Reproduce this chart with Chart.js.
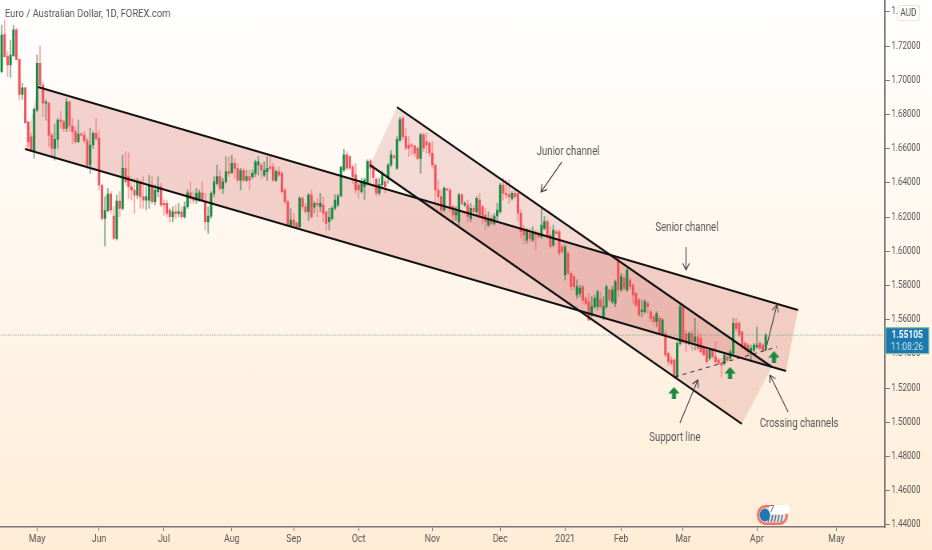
<!DOCTYPE html>
<html>
<head>
<meta charset="utf-8">
<title>EURAUD</title>
<script src="https://cdn.jsdelivr.net/npm/chart.js@4/dist/chart.umd.min.js"></script>
<style>
html, body { margin: 0; padding: 0; width: 932px; height: 550px; overflow: hidden; background: linear-gradient(to bottom, #ffffff 0%, #fff6ec 50%, #ffedd6 100%); }
/* the original picture is squeezed sideways, so the chart is drawn wider and narrowed here */
canvas { display: block; transform: scaleX(0.8); transform-origin: left top; }
</style>
</head>
<body>
<canvas id="chart" width="1165" height="550"></canvas>
<script>
const opens = [
1.7051,1.7269,1.7139,1.7090,1.7144,1.7295,1.7123,1.6918,1.6957,1.6758,
1.6670,1.6589,1.6827,1.7100,1.6973,1.6866,1.6866,1.6680,1.6602,1.6655,
1.6768,1.6758,1.6719,1.6875,1.6733,1.6700,1.6641,1.6686,1.6680,1.6647,
1.6505,1.6622,1.6690,1.6661,1.6388,1.6193,1.6238,1.6335,1.6206,1.6076,
1.6294,1.6251,1.6485,1.6437,1.6378,1.6359,1.6329,1.6407,1.6320,1.6300,
1.6300,1.6388,1.6290,1.6349,1.6378,1.6281,1.6281,1.6242,1.6203,1.6232,
1.6222,1.6232,1.6203,1.6261,1.6343,1.6310,1.6300,1.6310,1.6343,1.6290,
1.6173,1.6206,1.6339,1.6398,1.6437,1.6368,1.6407,1.6466,1.6460,1.6515,
1.6485,1.6417,1.6472,1.6417,1.6437,1.6437,1.6456,1.6505,1.6505,1.6446,
1.6466,1.6495,1.6495,1.6417,1.6466,1.6456,1.6359,1.6290,1.6154,1.6183,
1.6164,1.6144,1.6310,1.6261,1.6232,1.6330,1.6258,1.6281,1.6261,1.6271,
1.6232,1.6174,1.6193,1.6252,1.6271,1.6324,1.6476,1.6564,1.6554,1.6495,
1.6447,1.6388,1.6349,1.6379,1.6402,1.6529,1.6486,1.6421,1.6340,1.6388,
1.6408,1.6433,1.6505,1.6558,1.6486,1.6652,1.6778,1.6671,1.6622,1.6622,
1.6616,1.6603,1.6544,1.6681,1.6642,1.6632,1.6574,1.6505,1.6359,1.6320,
1.6242,1.6363,1.6359,1.6262,1.6213,1.6174,1.6330,1.6271,1.6271,1.6193,
1.6252,1.6232,1.6300,1.6262,1.6213,1.6154,1.6193,1.6164,1.6207,1.6232,
1.6388,1.6340,1.6330,1.6310,1.6340,1.6340,1.6223,1.6125,1.6066,1.6106,
1.6066,1.6106,1.6106,1.6086,1.6135,1.6174,1.6096,1.6037,1.6115,1.6115,
1.6027,1.5862,1.5989,1.5872,1.5852,1.5745,1.5755,1.5794,1.5725,1.5706,
1.5628,1.5677,1.5677,1.5716,1.5618,1.5677,1.5774,1.5706,1.5696,1.5950,
1.5774,1.5842,1.5774,1.5832,1.5803,1.5755,1.5716,1.5647,1.5647,1.5696,
1.5647,1.5618,1.5589,1.5608,1.5520,1.5520,1.5403,1.5364,1.5364,1.5267,
1.5462,1.5677,1.5520,1.5462,1.5520,1.5472,1.5501,1.5491,1.5433,1.5423,
1.5374,1.5423,1.5384,1.5364,1.5345,1.5345,1.5384,1.5374,1.5403,1.5579,
1.5579,1.5530,1.5462,1.5452,1.5403,1.5423,1.5442,1.5462,1.5452,1.5423
];
const highs = [
1.7324,1.7353,1.7168,1.7236,1.7324,1.7304,1.7123,1.6983,1.6959,1.6758,
1.6690,1.6836,1.7148,1.7201,1.6986,1.6885,1.6875,1.6690,1.6745,1.6778,
1.6817,1.6768,1.6895,1.6875,1.6778,1.6729,1.6768,1.6694,1.6700,1.6661,
1.6719,1.6700,1.6778,1.6710,1.6388,1.6320,1.6368,1.6349,1.6261,1.6329,
1.6349,1.6563,1.6583,1.6577,1.6427,1.6427,1.6427,1.6417,1.6437,1.6378,
1.6446,1.6437,1.6388,1.6437,1.6398,1.6300,1.6300,1.6251,1.6261,1.6271,
1.6281,1.6261,1.6290,1.6359,1.6407,1.6349,1.6368,1.6359,1.6407,1.6339,
1.6261,1.6349,1.6437,1.6505,1.6476,1.6427,1.6554,1.6554,1.6563,1.6544,
1.6515,1.6485,1.6485,1.6476,1.6476,1.6476,1.6534,1.6554,1.6515,1.6524,
1.6554,1.6554,1.6515,1.6476,1.6495,1.6466,1.6368,1.6300,1.6251,1.6222,
1.6173,1.6320,1.6320,1.6281,1.6339,1.6359,1.6291,1.6310,1.6339,1.6320,
1.6232,1.6252,1.6262,1.6330,1.6336,1.6499,1.6597,1.6583,1.6560,1.6505,
1.6515,1.6398,1.6427,1.6427,1.6535,1.6540,1.6505,1.6433,1.6427,1.6466,
1.6427,1.6515,1.6589,1.6564,1.6671,1.6784,1.6788,1.6720,1.6671,1.6632,
1.6622,1.6612,1.6690,1.6690,1.6690,1.6642,1.6642,1.6505,1.6417,1.6359,
1.6378,1.6369,1.6369,1.6271,1.6262,1.6340,1.6340,1.6291,1.6300,1.6281,
1.6271,1.6320,1.6340,1.6271,1.6252,1.6232,1.6213,1.6223,1.6281,1.6398,
1.6427,1.6417,1.6417,1.6349,1.6359,1.6340,1.6242,1.6154,1.6135,1.6135,
1.6145,1.6125,1.6115,1.6262,1.6203,1.6184,1.6145,1.6154,1.6125,1.6125,
1.6037,1.6037,1.5998,1.5881,1.5862,1.5833,1.5803,1.5803,1.5735,1.5755,
1.5735,1.5745,1.5774,1.5764,1.5735,1.5803,1.5784,1.5794,1.5832,1.5959,
1.5871,1.5862,1.5900,1.5842,1.5813,1.5764,1.5725,1.5716,1.5716,1.5706,
1.5657,1.5628,1.5647,1.5618,1.5608,1.5540,1.5413,1.5384,1.5374,1.5472,
1.5696,1.5686,1.5540,1.5530,1.5540,1.5608,1.5540,1.5520,1.5442,1.5433,
1.5433,1.5433,1.5472,1.5374,1.5374,1.5403,1.5394,1.5423,1.5608,1.5608,
1.5589,1.5530,1.5472,1.5462,1.5452,1.5462,1.5559,1.5472,1.5462,1.5520
];
const lows = [
1.7045,1.7135,1.7022,1.7018,1.7139,1.7119,1.6885,1.6889,1.6749,1.6612,
1.6583,1.6544,1.6817,1.6959,1.6788,1.6768,1.6612,1.6554,1.6534,1.6602,
1.6719,1.6700,1.6700,1.6700,1.6632,1.6632,1.6635,1.6674,1.6632,1.6485,
1.6456,1.6602,1.6651,1.6359,1.6183,1.6031,1.6232,1.6222,1.6070,1.6066,
1.6203,1.6242,1.6388,1.6310,1.6300,1.6222,1.6310,1.6251,1.6251,1.6242,
1.6251,1.6281,1.6271,1.6320,1.6261,1.6212,1.6203,1.6173,1.6173,1.6193,
1.6203,1.6193,1.6193,1.6251,1.6281,1.6281,1.6281,1.6290,1.6290,1.6125,
1.6105,1.6193,1.6320,1.6388,1.6359,1.6339,1.6398,1.6437,1.6456,1.6427,
1.6407,1.6359,1.6407,1.6407,1.6359,1.6427,1.6437,1.6446,1.6427,1.6437,
1.6417,1.6476,1.6407,1.6407,1.6437,1.6339,1.6281,1.6144,1.6144,1.6144,
1.6134,1.6134,1.6242,1.6222,1.6183,1.6193,1.6223,1.6203,1.6232,1.6174,
1.6125,1.6125,1.6184,1.6242,1.6262,1.6320,1.6466,1.6476,1.6476,1.6398,
1.6340,1.6310,1.6340,1.6304,1.6388,1.6388,1.6379,1.6324,1.6330,1.6369,
1.6340,1.6398,1.6495,1.6544,1.6480,1.6642,1.6652,1.6593,1.6554,1.6564,
1.6554,1.6535,1.6456,1.6583,1.6574,1.6554,1.6486,1.6281,1.6271,1.6223,
1.6232,1.6355,1.6232,1.6174,1.6184,1.6154,1.6271,1.6262,1.6174,1.6174,
1.6213,1.6213,1.6193,1.6164,1.6125,1.6144,1.6154,1.6154,1.6174,1.6223,
1.6300,1.6310,1.6281,1.6300,1.6310,1.6174,1.6076,1.6047,1.6047,1.6057,
1.6057,1.6008,1.6076,1.6076,1.6125,1.6076,1.6018,1.6028,1.6096,1.5979,
1.5989,1.5832,1.5862,1.5774,1.5774,1.5725,1.5735,1.5696,1.5686,1.5595,
1.5618,1.5667,1.5657,1.5667,1.5599,1.5667,1.5706,1.5696,1.5677,1.5735,
1.5764,1.5774,1.5764,1.5774,1.5696,1.5676,1.5618,1.5618,1.5637,1.5637,
1.5589,1.5569,1.5559,1.5511,1.5511,1.5384,1.5335,1.5335,1.5257,1.5257,
1.5452,1.5462,1.5413,1.5452,1.5423,1.5423,1.5423,1.5403,1.5388,1.5345,
1.5364,1.5374,1.5345,1.5335,1.5267,1.5335,1.5355,1.5364,1.5394,1.5530,
1.5501,1.5433,1.5423,1.5403,1.5355,1.5413,1.5433,1.5423,1.5413,1.5419
];
const closes = [
1.7265,1.7139,1.7090,1.7148,1.7295,1.7123,1.6918,1.6957,1.6752,1.6641,
1.6589,1.6830,1.7100,1.6973,1.6866,1.6875,1.6680,1.6602,1.6655,1.6768,
1.6758,1.6719,1.6875,1.6733,1.6700,1.6641,1.6686,1.6680,1.6647,1.6505,
1.6622,1.6690,1.6661,1.6388,1.6193,1.6238,1.6335,1.6242,1.6076,1.6294,
1.6251,1.6485,1.6407,1.6378,1.6359,1.6329,1.6407,1.6320,1.6300,1.6320,
1.6388,1.6290,1.6359,1.6378,1.6271,1.6271,1.6222,1.6203,1.6232,1.6222,
1.6232,1.6203,1.6261,1.6343,1.6310,1.6300,1.6339,1.6343,1.6300,1.6173,
1.6206,1.6339,1.6407,1.6437,1.6368,1.6407,1.6466,1.6456,1.6515,1.6485,
1.6417,1.6472,1.6417,1.6437,1.6417,1.6456,1.6524,1.6524,1.6476,1.6476,
1.6485,1.6485,1.6417,1.6466,1.6446,1.6349,1.6290,1.6154,1.6183,1.6154,
1.6144,1.6310,1.6261,1.6232,1.6329,1.6203,1.6281,1.6271,1.6281,1.6223,
1.6164,1.6199,1.6252,1.6300,1.6324,1.6492,1.6564,1.6486,1.6486,1.6437,
1.6359,1.6359,1.6408,1.6417,1.6525,1.6486,1.6433,1.6340,1.6392,1.6447,
1.6379,1.6505,1.6564,1.6550,1.6655,1.6769,1.6671,1.6603,1.6603,1.6616,
1.6574,1.6544,1.6681,1.6603,1.6622,1.6574,1.6505,1.6359,1.6320,1.6242,
1.6369,1.6359,1.6262,1.6213,1.6232,1.6330,1.6281,1.6281,1.6203,1.6252,
1.6232,1.6310,1.6213,1.6193,1.6174,1.6193,1.6164,1.6207,1.6242,1.6388,
1.6340,1.6330,1.6320,1.6340,1.6320,1.6223,1.6115,1.6096,1.6125,1.6076,
1.6115,1.6096,1.6086,1.6154,1.6174,1.6086,1.6028,1.6125,1.6106,1.5989,
1.5998,1.6027,1.5872,1.5794,1.5794,1.5794,1.5784,1.5716,1.5696,1.5599,
1.5677,1.5725,1.5764,1.5677,1.5677,1.5794,1.5716,1.5774,1.5823,1.5774,
1.5852,1.5784,1.5891,1.5794,1.5745,1.5686,1.5628,1.5657,1.5706,1.5677,
1.5608,1.5589,1.5637,1.5520,1.5598,1.5394,1.5355,1.5345,1.5267,1.5462,
1.5677,1.5472,1.5462,1.5520,1.5472,1.5501,1.5433,1.5413,1.5394,1.5355,
1.5423,1.5384,1.5355,1.5345,1.5335,1.5394,1.5364,1.5413,1.5579,1.5550,
1.5511,1.5442,1.5433,1.5413,1.5433,1.5452,1.5452,1.5433,1.5423,1.5510
];
const barIndex = opens.map((_, i) => i);

const priceTicks = [1.44,1.46,1.48,1.50,1.52,1.54,1.56,1.58,1.60,1.62,1.64,1.66,1.68,1.70,1.72,1.74];
const monthNames = ["May","Jun","Jul","Aug","Sep","Oct","Nov","Dec","2021","Feb","Mar","Apr","May"];
const monthBars = [12,33,55,78,99,121,146,169,191,210,231,256,283];
const lastPrice = 1.55105;
const countdown = "11:08:26";

// channels: four corners each, in [bar, price]
const seniorTop = [[12.31,1.6961],[269.94,1.5657]];
const seniorBottom = [[7.9,1.6599],[265.87,1.5301]];
const juniorTop = [[134.0,1.6844],[261.1,1.5324]];
const juniorBottom = [[124.85,1.6505],[250.9,1.4991]];
const supportLine = [[228.2,1.5266],[262.8,1.5441]];
const upMarks = [[227.9,1.5172],[246.9,1.5289],[261.8,1.5382]];

const arrows = [
  [189.9,1.6523,182.8,1.6347],
  [231.98,1.6026,231.98,1.5891],
  [229.9,1.4996,236.0,1.5248],
  [266.6,1.5061,260.4,1.5277],
  [259.4,1.5453,262.8,1.5687]
];
const notes = [
  ["Junior channel",192,1.6581],
  ["Senior channel",232.3,1.6137],
  ["Support line",228.2,1.4909],
  ["Crossing channels",270.3,1.4991]
];

const upColor = "#148a40", downColor = "#f4505a";
const upWick = "rgba(19,110,60,0.5)", downWick = "rgba(244,80,90,0.45)";
const textColor = "#555";
const font = "Roboto, sans-serif";

const toPts = arr => arr.map(p => ({x: p[0], y: p[1]}));
const isUp = i => closes[i] >= opens[i];

function lineSet(pts, extra) {
  return Object.assign({type: "line", data: toPts(pts), borderColor: "#111", borderWidth: 2.1, pointRadius: 0, fill: false, order: 1}, extra);
}
function channelFill(top, bottom, color) {
  return {type: "line", data: toPts([top[0], top[1], bottom[1], bottom[0], top[0]]), borderWidth: 0, borderColor: "transparent", backgroundColor: color, fill: "shape", pointRadius: 0, order: 6};
}

// little green up arrow used as a point style
const upMark = document.createElement("canvas");
upMark.width = 14; upMark.height = 12;
(function () {
  const c = upMark.getContext("2d");
  c.fillStyle = upColor;
  c.beginPath();
  c.moveTo(7, 0); c.lineTo(14, 6.5); c.lineTo(9.5, 6.5); c.lineTo(9.5, 12); c.lineTo(4.5, 12); c.lineTo(4.5, 6.5); c.lineTo(0, 6.5);
  c.closePath();
  c.fill();
})();

// arrows, labels, price tag, currency badge and logo on top of the chart
const overlay = {
  id: "overlay",
  afterDraw(chart) {
    const ctx = chart.ctx, xs = chart.scales.x, ys = chart.scales.y;
    ctx.save();
    ctx.strokeStyle = "#3c3c3c";
    ctx.lineWidth = 1.1;
    arrows.forEach(a => {
      const x0 = xs.getPixelForValue(a[0]), y0 = ys.getPixelForValue(a[1]);
      const x1 = xs.getPixelForValue(a[2]), y1 = ys.getPixelForValue(a[3]);
      const ang = Math.atan2(y1 - y0, x1 - x0);
      ctx.beginPath();
      ctx.moveTo(x0, y0); ctx.lineTo(x1, y1);
      ctx.moveTo(x1 - 8 * Math.cos(ang - 0.55), y1 - 8 * Math.sin(ang - 0.55));
      ctx.lineTo(x1, y1);
      ctx.lineTo(x1 - 8 * Math.cos(ang + 0.55), y1 - 8 * Math.sin(ang + 0.55));
      ctx.stroke();
    });

    ctx.fillStyle = textColor;
    ctx.font = "12px " + font;
    ctx.textAlign = "center";
    ctx.textBaseline = "middle";
    notes.forEach(n => ctx.fillText(n[0], xs.getPixelForValue(n[1]), ys.getPixelForValue(n[2])));

    ctx.textAlign = "left";
    ctx.font = "11.8px " + font;
    ctx.fillText("Euro / Australian Dollar, 1D, FOREX.com", 6.25, 14);

    // currency badge
    ctx.fillStyle = "#fffdf9";
    ctx.strokeStyle = "#ece4d8";
    ctx.beginPath();
    ctx.roundRect(1122, 5.5, 27.5, 15, 3);
    ctx.fill(); ctx.stroke();
    ctx.fillStyle = textColor;
    ctx.font = "10.5px " + font;
    ctx.textAlign = "center";
    ctx.fillText("AUD", 1135.5, 13);

    // last price tag
    const ty = ys.getPixelForValue(lastPrice);
    ctx.fillStyle = "#1a7ab0";
    ctx.strokeStyle = "#8fc0a8";
    ctx.beginPath();
    ctx.rect(1107, ty - 7.5, 54, 26);
    ctx.fill(); ctx.stroke();
    ctx.fillStyle = "#fff";
    ctx.font = "bold 10.5px " + font;
    ctx.fillText(lastPrice.toFixed(5), 1134, ty + 0.5);
    ctx.fillStyle = "#c8e2e4";
    ctx.font = "10.5px " + font;
    ctx.fillText(countdown, 1134, ty + 12);

    // logo: pink ring, cream inside, blue badge with stripes, white pill
    ctx.fillStyle = "#f4706c";
    ctx.beginPath();
    ctx.roundRect(946, 505, 39, 20, 10);
    ctx.fill();
    ctx.fillStyle = "#fbe3d2";
    ctx.beginPath();
    ctx.roundRect(949, 507.5, 33, 15, 7.5);
    ctx.fill();
    ctx.strokeStyle = "#2a6fa8";
    ctx.lineWidth = 1.4;
    [961, 965, 969, 973, 977].forEach(v => {
      ctx.beginPath();
      ctx.moveTo(v + 1, 515);
      ctx.lineTo(v - 1, 522);
      ctx.stroke();
    });
    ctx.fillStyle = "#1f78b0";
    ctx.beginPath();
    ctx.arc(956, 515, 6.5, 0, Math.PI * 2);
    ctx.fill();
    ctx.fillStyle = "#fff";
    ctx.beginPath();
    ctx.roundRect(961, 505, 26, 9, 4.5);
    ctx.fill();
    ctx.fillStyle = "#444";
    ctx.font = "italic 9px " + font;
    ctx.fillText("7", 965, 510);
    ctx.restore();
  }
};

new Chart(document.getElementById("chart"), {
  type: "line",
  data: {
    datasets: [
      lineSet(seniorTop),
      lineSet(seniorBottom),
      lineSet(juniorTop),
      lineSet(juniorBottom),
      lineSet(supportLine, {borderWidth: 1, borderDash: [5, 5], borderColor: "#333"}),
      {type: "line", data: toPts(upMarks), showLine: false, pointStyle: upMark, pointRadius: 6, order: 0},
      lineSet([[-1, lastPrice], [300, lastPrice]], {borderWidth: 1, borderDash: [1, 2], borderColor: "#4f9a8a", order: 2}),
      {
        type: "bar", grouped: false, barThickness: 2.3, minBarLength: 1, order: 3,
        data: barIndex.map(i => ({x: i, y: [Math.min(opens[i], closes[i]), Math.max(opens[i], closes[i])]})),
        backgroundColor: barIndex.map(i => isUp(i) ? upColor : downColor)
      },
      {
        type: "bar", grouped: false, barThickness: 1.25, order: 4,
        data: barIndex.map(i => ({x: i, y: [lows[i], highs[i]]})),
        backgroundColor: barIndex.map(i => isUp(i) ? upWick : downWick)
      },
      channelFill(seniorTop, seniorBottom, "rgba(209,102,98,0.28)"),
      channelFill(juniorTop, juniorBottom, "rgba(200,95,95,0.20)")
    ]
  },
  options: {
    responsive: false,
    animation: false,
    devicePixelRatio: 1,
    layout: {padding: 0, autoPadding: false},
    plugins: {legend: {display: false}, tooltip: {enabled: false}},
    scales: {
      x: {
        type: "linear", offset: false, min: -0.57, max: 299.43,
        border: {color: "#777", width: 1.6},
        grid: {drawOnChartArea: false, tickLength: 4, tickColor: "#777", offset: false},
        afterBuildTicks: s => { s.ticks = monthBars.map(v => ({value: v})); },
        afterFit: s => { s.height = 23; s.paddingLeft = 0; s.paddingRight = 0; },
        ticks: {
          autoSkip: false, maxRotation: 0, padding: 2, color: textColor,
          font: {family: font, size: 11},
          callback: v => monthNames[monthBars.indexOf(v)]
        }
      },
      y: {
        type: "linear", position: "right", min: 1.43883, max: 1.747,
        border: {color: "#777", width: 2},
        grid: {drawOnChartArea: false, tickLength: 6, tickColor: "#777"},
        afterBuildTicks: s => { s.ticks = priceTicks.map(v => ({value: v})); },
        afterFit: s => { s.width = 58.75; s.paddingTop = 0; s.paddingBottom = 0; },
        ticks: {
          padding: 2, color: textColor,
          font: {family: font, size: 10},
          callback: v => v.toFixed(5)
        }
      }
    }
  },
  plugins: [overlay]
});
</script>
</body>
</html>
